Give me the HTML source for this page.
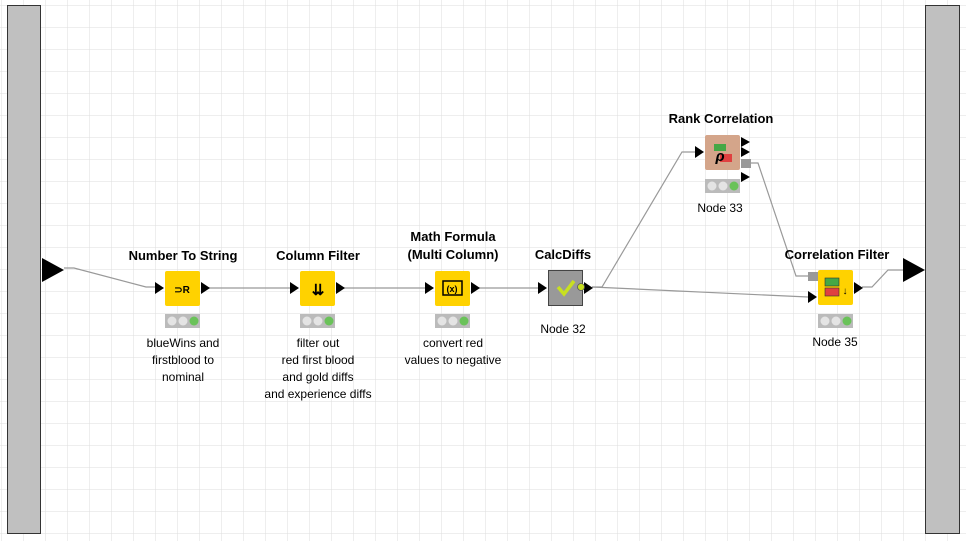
<!DOCTYPE html>
<html><head><style>
body{margin:0;background:#fff;}
svg{display:block;font-family:"Liberation Sans",Arial,sans-serif;}
.t{font-weight:bold;font-size:13px;text-anchor:middle;fill:#000}
.l{font-size:12px;text-anchor:middle;fill:#000}
</style></head><body>
<svg width="966" height="541" viewBox="0 0 966 541">
<defs><pattern id="g" width="22" height="22" patternUnits="userSpaceOnUse" x="2" y="6"><path d="M22 0V22M0 22H22" stroke="#dedede" stroke-width="1" fill="none"/></pattern></defs>
<rect width="966" height="541" fill="#fff"/>
<rect width="966" height="541" fill="url(#g)"/>
<rect x="7.5" y="5.5" width="33" height="528" fill="#c0c0c0" stroke="#333"/>
<rect x="925.5" y="5.5" width="34" height="528" fill="#c0c0c0" stroke="#333"/>
<polygon points="42,258 64,270 42,282" fill="#000"/>
<polygon points="903,258 925,270 903,282" fill="#000"/>
<g stroke="#999" stroke-width="1.2" fill="none">
<polyline points="64,268 74,268 146,287 156,287"/>
<line x1="208" y1="288" x2="292" y2="288"/>
<line x1="343" y1="288" x2="427" y2="288"/>
<line x1="478" y1="288" x2="540" y2="288"/>
<polyline points="592,287 602,287 682,152 696,152"/>
<polyline points="592,287 808,297"/>
<polyline points="750,163 758,163 796,276 808,276"/>
<polyline points="862,287 872,287 888,270 903,270"/>
</g>
<text class="t" x="183" y="260">Number To String</text>
<rect x="165" y="271" width="35" height="35" rx="2" fill="#ffd200"/>
<text x="182" y="293" font-size="10" font-weight="bold" text-anchor="middle">⊃R</text>
<polygon points="155,282 164,288 155,294" fill="#000"/><polygon points="201,282 210,288 201,294" fill="#000"/>
<rect x="165" y="314" width="35" height="14" fill="#bbb"/><circle cx="172" cy="321" r="4.5" fill="#e4e4e4"/><circle cx="183" cy="321" r="4.5" fill="#e4e4e4"/><circle cx="194" cy="321" r="4.5" fill="#6ac259"/>
<text class="l" x="183" y="347">blueWins and</text><text class="l" x="183" y="364">firstblood to</text><text class="l" x="183" y="381">nominal</text>
<text class="t" x="318" y="260">Column Filter</text>
<rect x="300" y="271" width="35" height="35" rx="2" fill="#ffd200"/>
<text x="318" y="295" font-size="15" font-weight="bold" text-anchor="middle">⇊</text>
<polygon points="290,282 299,288 290,294" fill="#000"/><polygon points="336,282 345,288 336,294" fill="#000"/>
<rect x="300" y="314" width="35" height="14" fill="#bbb"/><circle cx="307" cy="321" r="4.5" fill="#e4e4e4"/><circle cx="318" cy="321" r="4.5" fill="#e4e4e4"/><circle cx="329" cy="321" r="4.5" fill="#6ac259"/>
<text class="l" x="318" y="347">filter out</text><text class="l" x="318" y="364">red first blood</text><text class="l" x="318" y="381">and gold diffs</text><text class="l" x="318" y="398">and experience diffs</text>
<text class="t" x="453" y="241">Math Formula</text><text class="t" x="453" y="259">(Multi Column)</text>
<rect x="435" y="271" width="35" height="35" rx="2" fill="#ffd200"/>
<rect x="443" y="281" width="19" height="14" fill="none" stroke="#000" stroke-width="1.5"/><text x="452" y="292" font-size="9" font-weight="bold" text-anchor="middle">(x)</text>
<polygon points="425,282 434,288 425,294" fill="#000"/><polygon points="471,282 480,288 471,294" fill="#000"/>
<rect x="435" y="314" width="35" height="14" fill="#bbb"/><circle cx="442" cy="321" r="4.5" fill="#e4e4e4"/><circle cx="453" cy="321" r="4.5" fill="#e4e4e4"/><circle cx="464" cy="321" r="4.5" fill="#6ac259"/>
<text class="l" x="453" y="347">convert red</text><text class="l" x="453" y="364">values to negative</text>
<text class="t" x="563" y="259">CalcDiffs</text>
<rect x="548.5" y="270.5" width="34" height="35" fill="#999" stroke="#444"/>
<polyline points="558,287 564,294 574,281" stroke="#c8e020" stroke-width="3.5" fill="none"/>
<polygon points="538,282 547,288 538,294" fill="#000"/><polygon points="584,282 593,288 584,294" fill="#000"/>
<circle cx="581" cy="287" r="3.5" fill="#c8e020" stroke="#555" stroke-width="0.8"/>
<text class="l" x="563" y="333">Node 32</text>
<text class="t" x="721" y="123">Rank Correlation</text>
<rect x="705" y="135" width="35" height="35" rx="2" fill="#d4a58a"/>
<rect x="714" y="144" width="12" height="7" fill="#45a845"/><rect x="720" y="154" width="12" height="8" fill="#e04040"/>
<text x="720" y="161" font-size="15" font-weight="bold" font-style="italic" text-anchor="middle">ρ</text>
<polygon points="695,146 704,152 695,158" fill="#000"/>
<polygon points="741,137 750,142 741,147" fill="#000"/><polygon points="741,147 750,152 741,157" fill="#000"/><polygon points="741,172 750,177 741,182" fill="#000"/>
<rect x="741" y="159" width="10" height="9" fill="#999"/>
<rect x="705" y="179" width="35" height="14" fill="#bbb"/><circle cx="712" cy="186" r="4.5" fill="#e4e4e4"/><circle cx="723" cy="186" r="4.5" fill="#e4e4e4"/><circle cx="734" cy="186" r="4.5" fill="#6ac259"/>
<text class="l" x="720" y="212">Node 33</text>
<text class="t" x="837" y="259">Correlation Filter</text>
<rect x="818" y="270" width="35" height="35" rx="2" fill="#ffd200"/>
<rect x="825" y="278" width="14" height="8" fill="#45a845" stroke="#333" stroke-width="0.6"/><rect x="825" y="288" width="14" height="8" fill="#e04040" stroke="#333" stroke-width="0.6"/>
<text x="845" y="294" font-size="10" font-weight="bold" text-anchor="middle">↓</text>
<rect x="808" y="272" width="10" height="9" fill="#999"/>
<polygon points="808,291 817,297 808,303" fill="#000"/><polygon points="854,282 863,288 854,294" fill="#000"/>
<rect x="818" y="314" width="35" height="14" fill="#bbb"/><circle cx="825" cy="321" r="4.5" fill="#e4e4e4"/><circle cx="836" cy="321" r="4.5" fill="#e4e4e4"/><circle cx="847" cy="321" r="4.5" fill="#6ac259"/>
<text class="l" x="835" y="346">Node 35</text>
</svg>
</body></html>
